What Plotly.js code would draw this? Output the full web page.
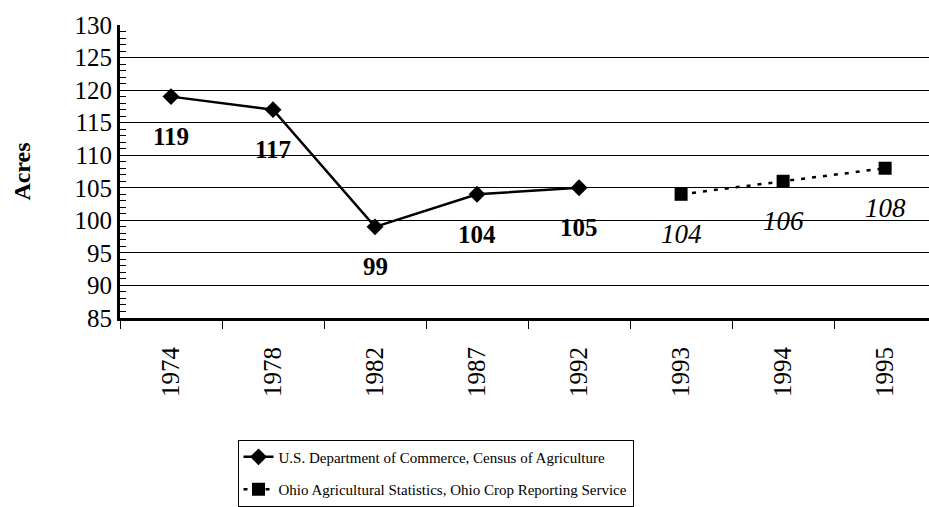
<!DOCTYPE html>
<html>
<head>
<meta charset="utf-8">
<script src="https://cdn.plot.ly/plotly-3.0.1.min.js"></script>
<style>html,body{margin:0;padding:0;background:#fff;}#chart{width:929px;height:507px;}</style>
</head>
<body>
<div id="chart"></div>
<script>
const categories = ["1974","1978","1982","1987","1992","1993","1994","1995"];
const censusYears = ["1974","1978","1982","1987","1992"];
const censusAcres = [119, 117, 99, 104, 105];
const ohioYears = ["1993","1994","1995"];
const ohioAcres = [104, 106, 108];
const censusName = "U.S. Department of Commerce, Census of Agriculture";
const ohioName = "Ohio Agricultural Statistics, Ohio Crop Reporting Service";

const FONT = "Liberation Serif, Times New Roman, serif";

const traces = [
  {
    x: censusYears, y: censusAcres, name: censusName, type: "scatter", mode: "lines+markers",
    line: {color: "black", width: 2.5},
    marker: {symbol: "diamond", size: 13, color: "black"},
    legendgroup: "a"
  },
  {
    x: ohioYears, y: ohioAcres, name: ohioName, type: "scatter", mode: "lines+markers",
    line: {color: "black", width: 2.5, dash: "4px,7px"},
    marker: {symbol: "square", size: 13, color: "black"},
    legendgroup: "b"
  }
];

const annotations = [];
censusYears.forEach((yr, i) => annotations.push({
  xref: "x", yref: "y",
  x: categories.indexOf(yr), y: censusAcres[i], text: "<b>" + censusAcres[i] + "</b>", showarrow: false,
  yshift: -40, font: {family: FONT, size: 25, color: "black"}
}));
ohioYears.forEach((yr, i) => annotations.push({
  xref: "x", yref: "y",
  x: categories.indexOf(yr), y: ohioAcres[i], text: "<i>" + ohioAcres[i] + "</i>", showarrow: false,
  yshift: -40, font: {family: FONT, size: 27, color: "black"}
}));

const layout = {
  width: 929, height: 507,
  margin: {l: 120, r: 0, t: 25, b: 187},
  paper_bgcolor: "white", plot_bgcolor: "white",
  font: {family: FONT, color: "black"},
  showlegend: true,
  legend: {
    x: 0.39, y: -0.415, xanchor: "center", yanchor: "top",
    bordercolor: "black", borderwidth: 1, bgcolor: "white",
    font: {family: FONT, size: 15, color: "black"},
    traceorder: "grouped", tracegroupgap: 10
  },
  xaxis: {
    type: "category", categoryarray: categories, categoryorder: "array",
    range: [-0.5, 7.43],
    showline: true, linecolor: "black", linewidth: 3,
    ticks: "outside", tickson: "boundaries", ticklen: 8, tickcolor: "black", tickwidth: 1,
    ticklabelstandoff: 16,
    tickangle: -90, tickfont: {family: FONT, size: 25, color: "black"},
    showgrid: false, zeroline: false
  },
  yaxis: {
    range: [85, 130], dtick: 5, tick0: 85,
    showline: true, linecolor: "black", linewidth: 3,
    ticks: "inside", ticklen: 8, tickcolor: "black", tickwidth: 1,
    minor: {dtick: 1, ticks: "inside", ticklen: 6, tickcolor: "black", tickwidth: 1, showgrid: false},
    showgrid: true, gridcolor: "black", gridwidth: 1,
    tickfont: {family: FONT, size: 25, color: "black"},
    title: {text: "<b>Acres</b>", font: {family: FONT, size: 24, color: "black"}, standoff: 38},
    zeroline: false
  },
  annotations: annotations
};

Plotly.newPlot("chart", traces, layout, {displayModeBar: false, staticPlot: true});
</script>
</body>
</html>
